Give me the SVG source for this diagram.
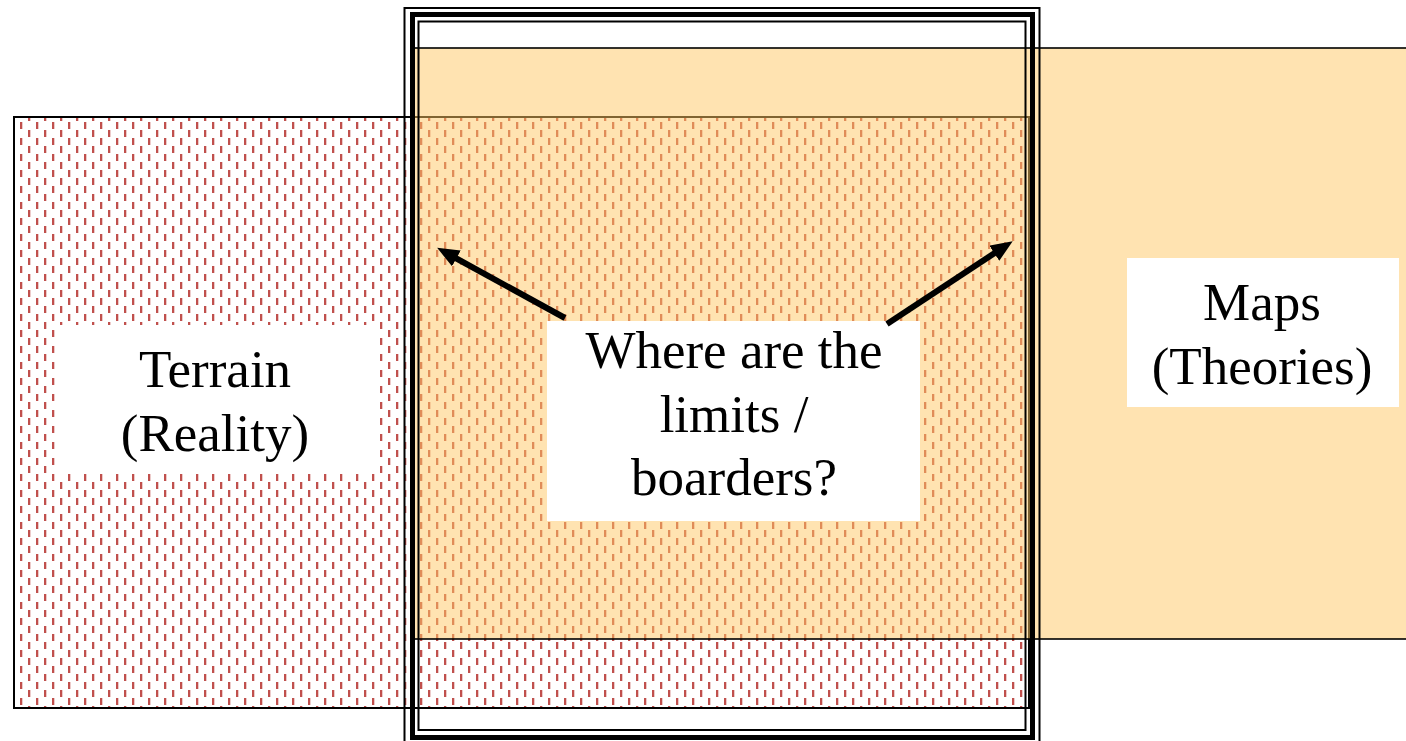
<svg xmlns="http://www.w3.org/2000/svg" width="1406" height="741" viewBox="0 0 1406 741">
<style>
.lbl{font-family:"Liberation Serif","Times New Roman",serif;font-size:53px;fill:#000;text-anchor:middle}
.box{fill:#fff;stroke:none}
.frame{fill:none;stroke:#000}
.arrow{stroke:#000;stroke-width:6;fill:none;marker-end:url(#ah)}
</style>
<defs>
<pattern id="dash" patternUnits="userSpaceOnUse" x="20" y="122" width="16" height="16">
<rect x="0" y="0" width="2.3" height="7" fill="#C0504D"/>
<rect x="8" y="8" width="2.3" height="7" fill="#C0504D"/>
</pattern>
<marker id="ah" markerUnits="userSpaceOnUse" viewBox="0 0 22 18" markerWidth="22" markerHeight="18" refX="5" refY="9" orient="auto">
<path d="M0,0 L22,9 L0,18 z" fill="#000"/>
</marker>
</defs>
<g id="terrain">
<rect x="14" y="117" width="1015" height="591" fill="#fff"/>
<rect x="14" y="117" width="1015" height="591" fill="url(#dash)" stroke="#000" stroke-width="2"/>
</g>
<g id="maps">
<rect x="414" y="48" width="1000" height="591" fill="#FFC864" fill-opacity="0.5" stroke="#000" stroke-width="1.6"/>
</g>
<g id="frame">
<rect class="frame" x="404.5" y="8" width="635" height="745" stroke-width="2"/>
<rect class="frame" x="412.5" y="14.5" width="620" height="723" stroke-width="5"/>
<rect class="frame" x="418.5" y="21.5" width="607" height="708.5" stroke-width="2"/>
</g>
<g id="terrain-label">
<rect class="box" x="56" y="325" width="323" height="148"/>
<text class="lbl" x="215" y="387">Terrain</text>
<text class="lbl" x="215" y="451">(Reality)</text>
</g>
<g id="maps-label">
<rect class="box" x="1127" y="258" width="272" height="149"/>
<text class="lbl" x="1262" y="320">Maps</text>
<text class="lbl" x="1262" y="384">(Theories)</text>
</g>
<g id="question">
<rect class="box" x="547" y="321" width="373" height="200"/>
<text class="lbl" x="734" y="368">Where are the</text>
<text class="lbl" x="734" y="432">limits /</text>
<text class="lbl" x="734" y="495">boarders?</text>
</g>
<g id="connectors">
<line class="arrow" x1="565" y1="318" x2="452" y2="256"/>
<line class="arrow" x1="887" y1="324" x2="998.5" y2="250.5"/>
</g>
</svg>
